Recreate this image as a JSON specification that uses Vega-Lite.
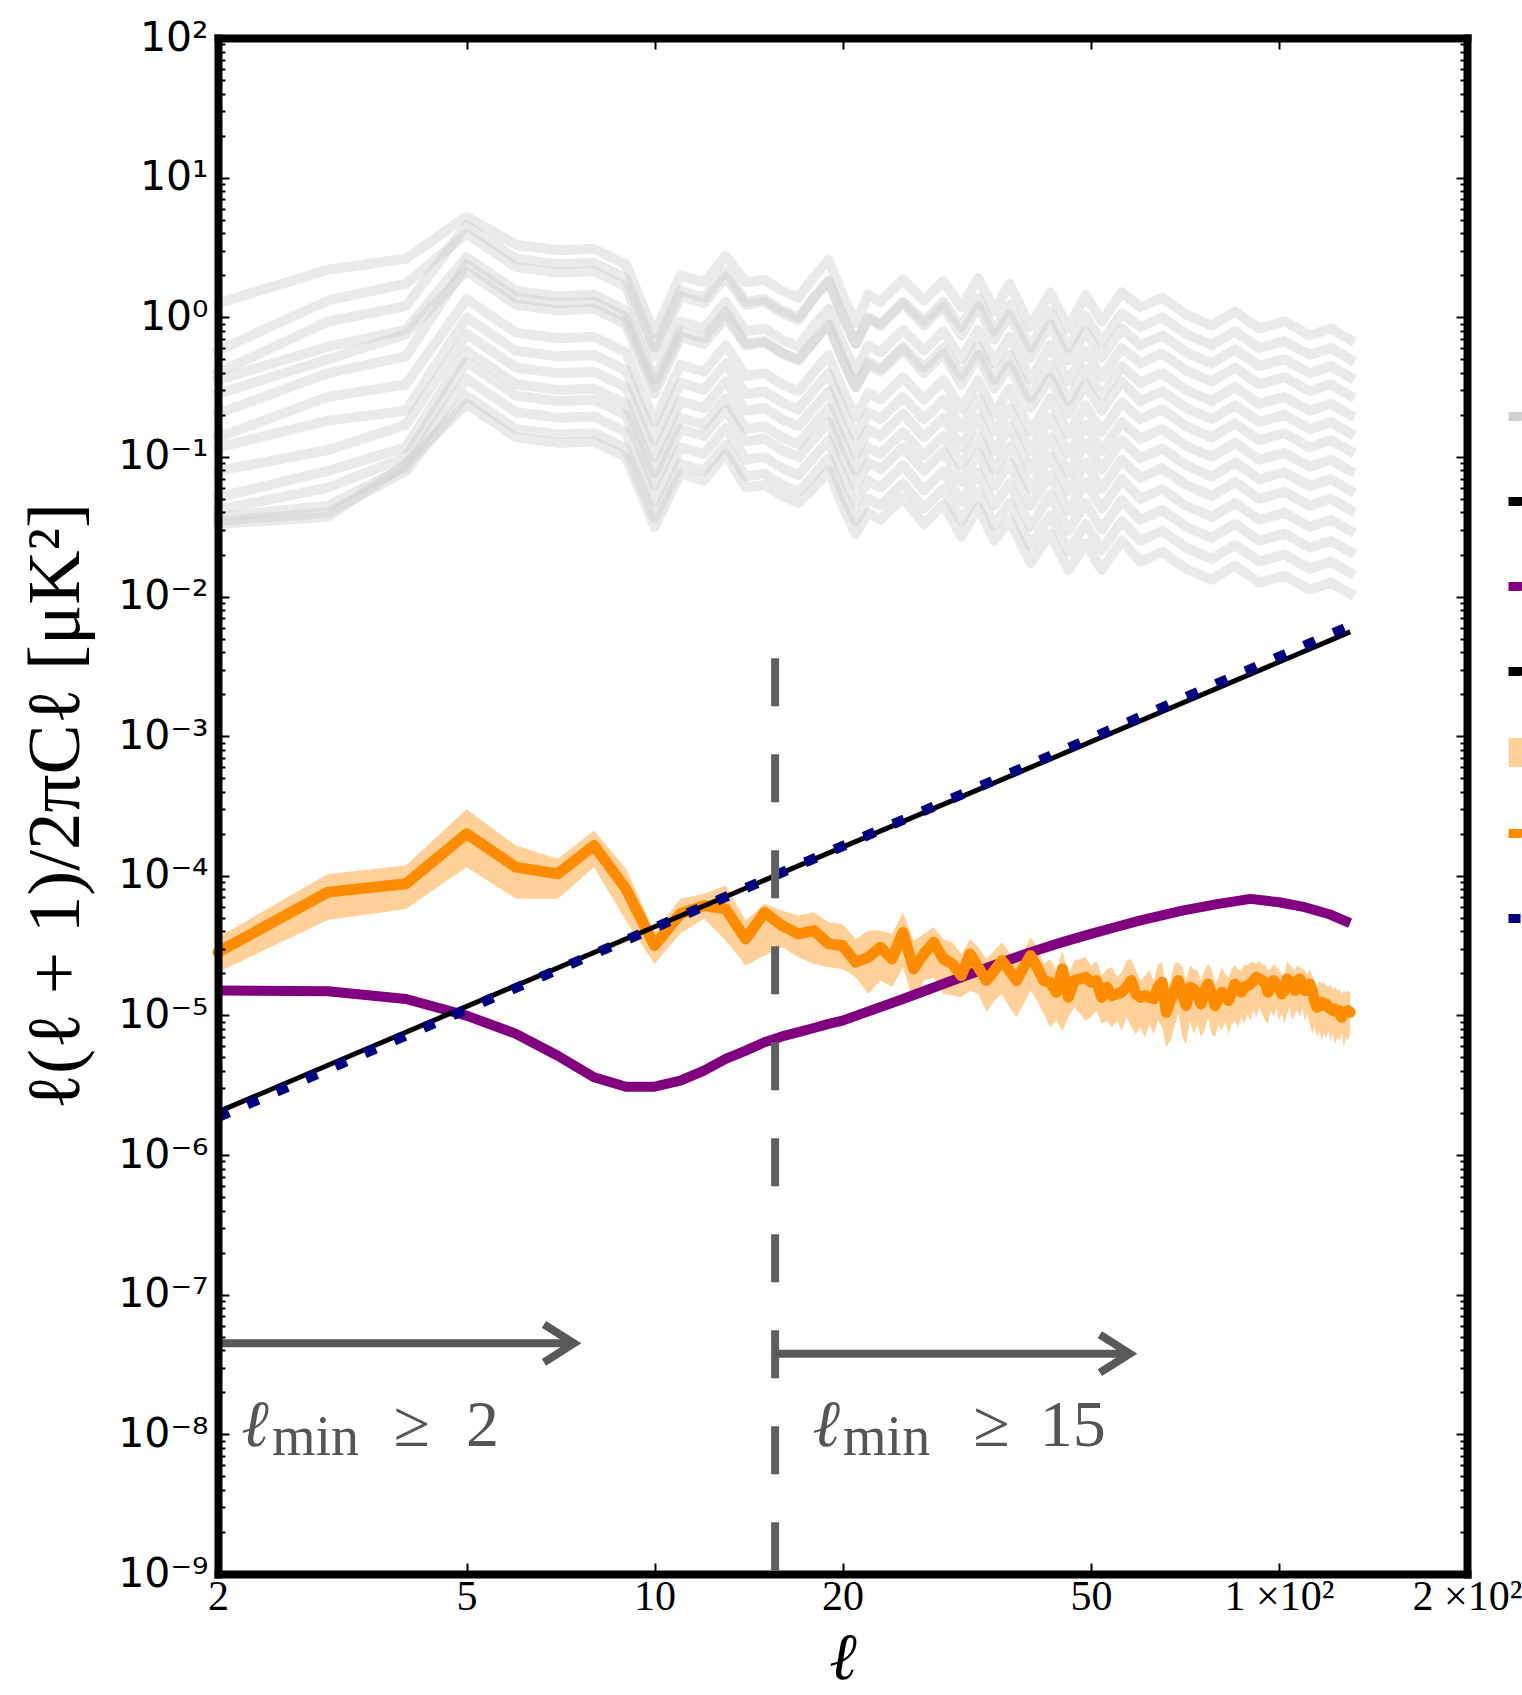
{
  "$schema": "https://vega.github.io/schema/vega-lite/v6.json",
  "autosize": {"type": "none"},
  "padding": {"left": 218, "top": 38, "right": 55, "bottom": 121},
  "width": 1249,
  "height": 1536,
  "background": "white",
  "config": {"view": {"stroke": null}, "font": "DejaVu Sans"},
  "datasets": {
    "gray": [
      {"l":2,"a":1.26,"b":0.575,"c":0.398,"d":0.355,"e":0.282,"f":0.204,"g":0.138,"h":0.117,"i":0.0794,"j":0.0513,"k":0.0417,"m":0.0372,"n":0.0347,"o":0.0331},
      {"l":3,"a":2.19,"b":1.32,"c":0.933,"d":0.617,"e":0.501,"f":0.398,"g":0.269,"h":0.182,"i":0.112,"j":0.0794,"k":0.0603,"m":0.0447,"n":0.0398,"o":0.0372},
      {"l":4,"a":2.63,"b":1.74,"c":1.20,"d":0.813,"e":0.759,"f":0.525,"g":0.331,"h":0.214,"i":0.170,"j":0.117,"k":0.100,"m":0.0851,"n":0.0794,"o":0.0891},
      {"l":5,"a":5.25,"b":3.98,"c":4.57,"d":2.69,"e":2.14,"f":2.40,"g":1.35,"h":1.00,"i":0.759,"j":0.575,"k":0.479,"m":0.363,"n":0.275,"o":0.240},
      {"l":6,"a":3.31,"b":2.29,"c":2.63,"d":1.55,"e":1.23,"f":1.38,"g":0.776,"h":0.575,"i":0.437,"j":0.331,"k":0.275,"m":0.209,"n":0.158,"o":0.138},
      {"l":7,"a":3.02,"b":2.09,"c":2.40,"d":1.41,"e":1.12,"f":1.26,"g":0.708,"h":0.525,"i":0.398,"j":0.302,"k":0.251,"m":0.191,"n":0.145,"o":0.126},
      {"l":8,"a":3.09,"b":2.14,"c":2.45,"d":1.45,"e":1.15,"f":1.29,"g":0.724,"h":0.537,"i":0.407,"j":0.309,"k":0.257,"m":0.195,"n":0.148,"o":0.129},
      {"l":9,"a":2.40,"b":1.66,"c":1.91,"d":1.12,"e":0.891,"f":1.00,"g":0.562,"h":0.417,"i":0.316,"j":0.240,"k":0.200,"m":0.151,"n":0.115,"o":0.100},
      {"l":10,"a":0.759,"b":0.525,"c":0.603,"d":0.355,"e":0.282,"f":0.316,"g":0.178,"h":0.132,"i":0.100,"j":0.0759,"k":0.0631,"m":0.0479,"n":0.0363,"o":0.0316},
      {"l":11,"a":2.00,"b":1.41,"c":1.55,"d":0.933,"e":0.724,"f":0.794,"g":0.457,"h":0.339,"i":0.251,"j":0.191,"k":0.158,"m":0.117,"n":0.0891,"o":0.0759},
      {"l":12,"a":1.78,"b":1.26,"c":1.38,"d":0.832,"e":0.646,"f":0.708,"g":0.407,"h":0.302,"i":0.224,"j":0.170,"k":0.141,"m":0.105,"n":0.0794,"o":0.0676},
      {"l":13,"a":2.75,"b":1.95,"c":2.14,"d":1.29,"e":1.00,"f":1.10,"g":0.631,"h":0.468,"i":0.347,"j":0.263,"k":0.219,"m":0.162,"n":0.123,"o":0.105},
      {"l":14,"a":1.78,"b":1.23,"c":1.29,"d":0.794,"e":0.631,"f":0.646,"g":0.380,"h":0.282,"i":0.214,"j":0.158,"k":0.129,"m":0.0955,"n":0.0724,"o":0.0603},
      {"l":15,"a":1.86,"b":1.29,"c":1.35,"d":0.832,"e":0.661,"f":0.676,"g":0.398,"h":0.295,"i":0.224,"j":0.166,"k":0.135,"m":0.100,"n":0.0759,"o":0.0631},
      {"l":16,"a":1.55,"b":1.07,"c":1.12,"d":0.692,"e":0.550,"f":0.562,"g":0.331,"h":0.245,"i":0.186,"j":0.138,"k":0.112,"m":0.0832,"n":0.0631,"o":0.0525},
      {"l":17,"a":1.38,"b":0.955,"c":1.00,"d":0.617,"e":0.490,"f":0.501,"g":0.295,"h":0.219,"i":0.166,"j":0.123,"k":0.100,"m":0.0741,"n":0.0562,"o":0.0468},
      {"l":18,"a":1.95,"b":1.38,"c":1.38,"d":0.871,"e":0.676,"f":0.676,"g":0.407,"h":0.302,"i":0.224,"j":0.170,"k":0.135,"m":0.100,"n":0.0741,"o":0.0603},
      {"l":19,"a":2.57,"b":1.82,"c":1.82,"d":1.15,"e":0.891,"f":0.891,"g":0.537,"h":0.398,"i":0.295,"j":0.224,"k":0.178,"m":0.132,"n":0.0977,"o":0.0794},
      {"l":20,"a":1.45,"b":1.02,"c":1.02,"d":0.646,"e":0.501,"f":0.501,"g":0.302,"h":0.224,"i":0.166,"j":0.126,"k":0.100,"m":0.0741,"n":0.0550,"o":0.0447},
      {"l":21,"a":0.912,"b":0.646,"c":0.646,"d":0.407,"e":0.316,"f":0.316,"g":0.191,"h":0.141,"i":0.105,"j":0.0794,"k":0.0631,"m":0.0468,"n":0.0347,"o":0.0282},
      {"l":22,"a":1.45,"b":1.00,"c":0.977,"d":0.631,"e":0.479,"f":0.457,"g":0.288,"h":0.209,"i":0.158,"j":0.117,"k":0.0912,"m":0.0676,"n":0.0501,"o":0.0398},
      {"l":23,"a":1.29,"b":0.891,"c":0.871,"d":0.562,"e":0.427,"f":0.407,"g":0.257,"h":0.186,"i":0.141,"j":0.105,"k":0.0813,"m":0.0603,"n":0.0447,"o":0.0355},
      {"l":25,"a":1.86,"b":1.29,"c":1.26,"d":0.813,"e":0.617,"f":0.589,"g":0.372,"h":0.269,"i":0.204,"j":0.151,"k":0.117,"m":0.0871,"n":0.0646,"o":0.0513},
      {"l":27,"a":1.32,"b":0.933,"c":0.871,"d":0.575,"e":0.437,"f":0.398,"g":0.257,"h":0.186,"i":0.138,"j":0.102,"k":0.0794,"m":0.0575,"n":0.0427,"o":0.0331},
      {"l":29,"a":1.82,"b":1.29,"c":1.20,"d":0.794,"e":0.603,"f":0.550,"g":0.355,"h":0.257,"i":0.191,"j":0.141,"k":0.110,"m":0.0794,"n":0.0589,"o":0.0457},
      {"l":31,"a":1.18,"b":0.851,"c":0.741,"d":0.501,"e":0.380,"f":0.331,"g":0.219,"h":0.162,"i":0.117,"j":0.0871,"k":0.0661,"m":0.0479,"n":0.0347,"o":0.0269},
      {"l":33,"a":1.91,"b":1.38,"c":1.20,"d":0.813,"e":0.617,"f":0.537,"g":0.355,"h":0.263,"i":0.191,"j":0.141,"k":0.107,"m":0.0776,"n":0.0562,"o":0.0437},
      {"l":35,"a":1.10,"b":0.794,"c":0.692,"d":0.468,"e":0.355,"f":0.309,"g":0.204,"h":0.151,"i":0.110,"j":0.0813,"k":0.0617,"m":0.0447,"n":0.0324,"o":0.0251},
      {"l":37,"a":1.74,"b":1.23,"c":1.05,"d":0.724,"e":0.537,"f":0.457,"g":0.309,"h":0.224,"i":0.166,"j":0.120,"k":0.0912,"m":0.0646,"n":0.0468,"o":0.0355},
      {"l":40,"a":0.851,"b":0.603,"c":0.513,"d":0.355,"e":0.263,"f":0.224,"g":0.151,"h":0.110,"i":0.0813,"j":0.0589,"k":0.0447,"m":0.0316,"n":0.0229,"o":0.0174},
      {"l":43,"a":1.51,"b":1.10,"c":0.891,"d":0.631,"e":0.457,"f":0.372,"g":0.263,"h":0.191,"i":0.138,"j":0.102,"k":0.0741,"m":0.0537,"n":0.0380,"o":0.0282},
      {"l":46,"a":0.832,"b":0.603,"c":0.490,"d":0.347,"e":0.251,"f":0.204,"g":0.145,"h":0.105,"i":0.0759,"j":0.0562,"k":0.0407,"m":0.0295,"n":0.0209,"o":0.0155},
      {"l":49,"a":1.45,"b":1.02,"c":0.794,"d":0.575,"e":0.427,"f":0.331,"g":0.234,"h":0.170,"i":0.126,"j":0.0912,"k":0.0661,"m":0.0468,"n":0.0331,"o":0.0240},
      {"l":52,"a":0.933,"b":0.661,"c":0.513,"d":0.372,"e":0.275,"f":0.214,"g":0.151,"h":0.110,"i":0.0813,"j":0.0589,"k":0.0427,"m":0.0302,"n":0.0214,"o":0.0155},
      {"l":56,"a":1.51,"b":1.07,"c":0.832,"d":0.603,"e":0.447,"f":0.347,"g":0.245,"h":0.178,"i":0.132,"j":0.0955,"k":0.0692,"m":0.0490,"n":0.0347,"o":0.0251},
      {"l":60,"a":1.18,"b":0.851,"c":0.631,"d":0.468,"e":0.339,"f":0.251,"g":0.186,"h":0.135,"i":0.0977,"j":0.0708,"k":0.0501,"m":0.0355,"n":0.0251,"o":0.0178},
      {"l":65,"a":1.38,"b":1.00,"c":0.741,"d":0.550,"e":0.398,"f":0.295,"g":0.219,"h":0.158,"i":0.115,"j":0.0832,"k":0.0589,"m":0.0417,"n":0.0295,"o":0.0209},
      {"l":71,"a":1.05,"b":0.759,"c":0.562,"d":0.417,"e":0.302,"f":0.224,"g":0.166,"h":0.120,"i":0.0871,"j":0.0631,"k":0.0447,"m":0.0316,"n":0.0224,"o":0.0158},
      {"l":78,"a":0.871,"b":0.631,"c":0.468,"d":0.347,"e":0.251,"f":0.186,"g":0.138,"h":0.100,"i":0.0724,"j":0.0525,"k":0.0372,"m":0.0263,"n":0.0186,"o":0.0132},
      {"l":85,"a":1.10,"b":0.794,"c":0.589,"d":0.437,"e":0.316,"f":0.234,"g":0.174,"h":0.126,"i":0.0912,"j":0.0661,"k":0.0468,"m":0.0331,"n":0.0234,"o":0.0166},
      {"l":93,"a":0.832,"b":0.603,"c":0.447,"d":0.331,"e":0.240,"f":0.178,"g":0.132,"h":0.0955,"i":0.0692,"j":0.0501,"k":0.0355,"m":0.0251,"n":0.0178,"o":0.0126},
      {"l":102,"a":0.933,"b":0.676,"c":0.501,"d":0.372,"e":0.269,"f":0.200,"g":0.148,"h":0.107,"i":0.0776,"j":0.0562,"k":0.0398,"m":0.0282,"n":0.0200,"o":0.0141},
      {"l":112,"a":0.741,"b":0.537,"c":0.398,"d":0.295,"e":0.214,"f":0.158,"g":0.117,"h":0.0851,"i":0.0617,"j":0.0447,"k":0.0316,"m":0.0224,"n":0.0158,"o":0.0112},
      {"l":121,"a":0.832,"b":0.603,"c":0.447,"d":0.331,"e":0.240,"f":0.178,"g":0.132,"h":0.0955,"i":0.0692,"j":0.0501,"k":0.0355,"m":0.0251,"n":0.0178,"o":0.0126},
      {"l":130,"a":0.692,"b":0.501,"c":0.372,"d":0.275,"e":0.200,"f":0.148,"g":0.110,"h":0.0794,"i":0.0575,"j":0.0417,"k":0.0295,"m":0.0209,"n":0.0148,"o":0.0105}
    ],
    "orange": [
      {"l":2,"v":2.84e-5,"lo":2.04e-5,"hi":3.63e-5},
      {"l":3,"v":7.64e-5,"lo":4.83e-5,"hi":1.03e-4},
      {"l":4,"v":8.77e-5,"lo":5.79e-5,"hi":1.186e-4},
      {"l":5,"v":2.0e-4,"lo":1.153e-4,"hi":3.0e-4},
      {"l":6,"v":1.153e-4,"lo":6.84e-5,"hi":1.648e-4},
      {"l":7,"v":1.033e-4,"lo":6.84e-5,"hi":1.324e-4},
      {"l":8,"v":1.648e-4,"lo":1.153e-4,"hi":2.11e-4},
      {"l":9,"v":8.07e-5,"lo":4.79e-5,"hi":1.122e-4},
      {"l":10,"v":3.17e-5,"lo":2.34e-5,"hi":3.94e-5},
      {"l":11,"v":5.35e-5,"lo":3.84e-5,"hi":6.84e-5},
      {"l":12,"v":6.12e-5,"lo":4.92e-5,"hi":7.43e-5},
      {"l":13,"v":5.79e-5,"lo":3.44e-5,"hi":8.51e-5},
      {"l":14,"v":3.53e-5,"lo":2.28e-5,"hi":4.79e-5},
      {"l":15,"v":5.48e-5,"lo":2.69e-5,"hi":6.30e-5},
      {"l":16,"v":4.404e-5,"lo":3.080e-5,"hi":5.640e-5},
      {"l":17,"v":3.838e-5,"lo":2.612e-5,"hi":5.194e-5},
      {"l":18,"v":4.055e-5,"lo":2.339e-5,"hi":5.487e-5},
      {"l":19,"v":3.254e-5,"lo":2.214e-5,"hi":4.653e-5},
      {"l":20,"v":3.166e-5,"lo":2.154e-5,"hi":4.525e-5},
      {"l":21,"v":2.404e-5,"lo":1.877e-5,"hi":3.534e-5},
      {"l":22,"v":2.612e-5,"lo":1.426e-5,"hi":4.055e-5},
      {"l":23,"v":3.080e-5,"lo":1.777e-5,"hi":4.055e-5},
      {"l":24,"v":2.541e-5,"lo":1.592e-5,"hi":3.838e-5},
      {"l":25,"v":3.945e-5,"lo":2.214e-5,"hi":5.487e-5},
      {"l":26,"v":2.154e-5,"lo":1.243e-5,"hi":3.439e-5},
      {"l":27,"v":2.759e-5,"lo":1.777e-5,"hi":3.838e-5},
      {"l":28,"v":3.345e-5,"lo":1.877e-5,"hi":4.284e-5},
      {"l":29,"v":2.541e-5,"lo":1.426e-5,"hi":3.534e-5},
      {"l":30,"v":2.339e-5,"lo":1.387e-5,"hi":3.345e-5},
      {"l":31,"v":1.929e-5,"lo":1.350e-5,"hi":2.759e-5},
      {"l":32,"v":2.759e-5,"lo":1.507e-5,"hi":3.534e-5},
      {"l":33,"v":2.214e-5,"lo":1.426e-5,"hi":3.080e-5},
      {"l":34,"v":1.777e-5,"lo":1.054e-5,"hi":2.541e-5},
      {"l":35,"v":2.096e-5,"lo":1.277e-5,"hi":2.915e-5},
      {"l":36,"v":2.472e-5,"lo":1.426e-5,"hi":3.345e-5},
      {"l":37,"v":2.096e-5,"lo":1.144e-5,"hi":2.836e-5},
      {"l":38,"v":1.777e-5,"lo":0.970e-5,"hi":2.541e-5},
      {"l":39,"v":2.214e-5,"lo":1.209e-5,"hi":2.836e-5},
      {"l":40,"v":2.685e-5,"lo":1.507e-5,"hi":3.633e-5},
      {"l":41,"v":2.214e-5,"lo":1.277e-5,"hi":3.080e-5},
      {"l":42,"v":1.777e-5,"lo":1.025e-5,"hi":2.339e-5},
      {"l":43,"v":1.729e-5,"lo":0.822e-5,"hi":2.541e-5},
      {"l":44,"v":1.466e-5,"lo":0.918e-5,"hi":2.096e-5},
      {"l":45,"v":2.154e-5,"lo":0.778e-5,"hi":2.915e-5},
      {"l":46,"v":1.350e-5,"lo":0.970e-5,"hi":1.984e-5},
      {"l":47,"v":1.777e-5,"lo":1.144e-5,"hi":2.472e-5},
      {"l":48,"v":1.826e-5,"lo":1.025e-5,"hi":2.541e-5},
      {"l":49,"v":1.877e-5,"lo":0.918e-5,"hi":2.612e-5},
      {"l":50,"v":1.729e-5,"lo":0.970e-5,"hi":2.276e-5},
      {"l":51,"v":1.777e-5,"lo":1.083e-5,"hi":2.472e-5},
      {"l":52,"v":1.350e-5,"lo":0.869e-5,"hi":1.929e-5},
      {"l":53,"v":1.592e-5,"lo":0.918e-5,"hi":2.154e-5},
      {"l":54,"v":1.387e-5,"lo":0.822e-5,"hi":2.214e-5},
      {"l":55,"v":1.426e-5,"lo":0.918e-5,"hi":1.877e-5},
      {"l":56,"v":1.466e-5,"lo":0.778e-5,"hi":2.039e-5},
      {"l":57,"v":1.592e-5,"lo":0.970e-5,"hi":2.472e-5},
      {"l":58,"v":1.777e-5,"lo":0.822e-5,"hi":2.541e-5},
      {"l":59,"v":1.426e-5,"lo":0.737e-5,"hi":2.096e-5},
      {"l":60,"v":1.350e-5,"lo":0.822e-5,"hi":1.777e-5},
      {"l":61,"v":1.387e-5,"lo":0.697e-5,"hi":1.929e-5},
      {"l":62,"v":1.350e-5,"lo":0.869e-5,"hi":2.096e-5},
      {"l":63,"v":1.313e-5,"lo":0.737e-5,"hi":1.777e-5},
      {"l":64,"v":1.592e-5,"lo":0.918e-5,"hi":2.339e-5},
      {"l":65,"v":1.729e-5,"lo":0.822e-5,"hi":2.404e-5},
      {"l":66,"v":1.054e-5,"lo":0.591e-5,"hi":1.507e-5},
      {"l":67,"v":1.277e-5,"lo":0.660e-5,"hi":1.777e-5},
      {"l":68,"v":1.507e-5,"lo":0.822e-5,"hi":2.339e-5},
      {"l":69,"v":1.777e-5,"lo":1.025e-5,"hi":2.404e-5},
      {"l":70,"v":1.426e-5,"lo":0.697e-5,"hi":2.214e-5},
      {"l":71,"v":1.176e-5,"lo":0.625e-5,"hi":1.777e-5},
      {"l":72,"v":1.592e-5,"lo":0.918e-5,"hi":2.276e-5},
      {"l":73,"v":1.549e-5,"lo":0.737e-5,"hi":2.154e-5},
      {"l":74,"v":1.387e-5,"lo":0.869e-5,"hi":2.096e-5},
      {"l":75,"v":1.209e-5,"lo":0.697e-5,"hi":1.777e-5},
      {"l":76,"v":1.507e-5,"lo":0.778e-5,"hi":2.096e-5},
      {"l":77,"v":1.682e-5,"lo":0.970e-5,"hi":2.339e-5},
      {"l":78,"v":1.426e-5,"lo":0.737e-5,"hi":2.154e-5},
      {"l":79,"v":1.176e-5,"lo":0.697e-5,"hi":1.682e-5},
      {"l":80,"v":1.313e-5,"lo":0.869e-5,"hi":1.877e-5},
      {"l":81,"v":1.466e-5,"lo":0.778e-5,"hi":2.214e-5},
      {"l":82,"v":1.426e-5,"lo":0.918e-5,"hi":1.984e-5},
      {"l":83,"v":1.277e-5,"lo":0.737e-5,"hi":1.877e-5},
      {"l":84,"v":1.466e-5,"lo":0.869e-5,"hi":2.154e-5},
      {"l":85,"v":1.682e-5,"lo":0.918e-5,"hi":2.276e-5},
      {"l":86,"v":1.549e-5,"lo":0.822e-5,"hi":2.154e-5},
      {"l":87,"v":1.466e-5,"lo":0.970e-5,"hi":2.096e-5},
      {"l":88,"v":1.592e-5,"lo":0.869e-5,"hi":2.339e-5},
      {"l":89,"v":1.636e-5,"lo":1.025e-5,"hi":2.276e-5},
      {"l":90,"v":1.682e-5,"lo":0.918e-5,"hi":2.404e-5},
      {"l":91,"v":1.777e-5,"lo":1.083e-5,"hi":2.404e-5},
      {"l":92,"v":1.877e-5,"lo":0.970e-5,"hi":2.339e-5},
      {"l":93,"v":1.826e-5,"lo":1.144e-5,"hi":2.472e-5},
      {"l":94,"v":1.777e-5,"lo":1.025e-5,"hi":2.276e-5},
      {"l":95,"v":1.729e-5,"lo":0.918e-5,"hi":2.339e-5},
      {"l":96,"v":1.466e-5,"lo":0.869e-5,"hi":2.096e-5},
      {"l":97,"v":1.592e-5,"lo":1.083e-5,"hi":2.154e-5},
      {"l":98,"v":1.777e-5,"lo":0.970e-5,"hi":2.339e-5},
      {"l":99,"v":1.682e-5,"lo":1.144e-5,"hi":2.214e-5},
      {"l":100,"v":1.592e-5,"lo":0.918e-5,"hi":2.154e-5},
      {"l":101,"v":1.426e-5,"lo":1.025e-5,"hi":1.984e-5},
      {"l":102,"v":1.507e-5,"lo":0.869e-5,"hi":1.929e-5},
      {"l":103,"v":1.826e-5,"lo":1.025e-5,"hi":2.472e-5},
      {"l":104,"v":1.729e-5,"lo":1.144e-5,"hi":2.276e-5},
      {"l":105,"v":1.682e-5,"lo":0.918e-5,"hi":2.214e-5},
      {"l":106,"v":1.507e-5,"lo":1.025e-5,"hi":2.096e-5},
      {"l":107,"v":1.777e-5,"lo":1.083e-5,"hi":2.276e-5},
      {"l":108,"v":1.826e-5,"lo":0.970e-5,"hi":2.214e-5},
      {"l":109,"v":1.636e-5,"lo":1.144e-5,"hi":2.154e-5},
      {"l":110,"v":1.507e-5,"lo":0.918e-5,"hi":2.096e-5},
      {"l":111,"v":1.549e-5,"lo":1.025e-5,"hi":1.984e-5},
      {"l":112,"v":1.682e-5,"lo":0.869e-5,"hi":2.154e-5},
      {"l":113,"v":1.507e-5,"lo":0.737e-5,"hi":1.929e-5},
      {"l":114,"v":1.277e-5,"lo":0.822e-5,"hi":1.777e-5},
      {"l":115,"v":1.144e-5,"lo":0.697e-5,"hi":1.592e-5},
      {"l":116,"v":1.209e-5,"lo":0.778e-5,"hi":1.777e-5},
      {"l":117,"v":1.243e-5,"lo":0.660e-5,"hi":1.682e-5},
      {"l":118,"v":1.176e-5,"lo":0.737e-5,"hi":1.729e-5},
      {"l":119,"v":1.209e-5,"lo":0.697e-5,"hi":1.636e-5},
      {"l":120,"v":1.144e-5,"lo":0.778e-5,"hi":1.592e-5},
      {"l":121,"v":1.113e-5,"lo":0.660e-5,"hi":1.682e-5},
      {"l":122,"v":1.083e-5,"lo":0.737e-5,"hi":1.507e-5},
      {"l":123,"v":1.113e-5,"lo":0.625e-5,"hi":1.592e-5},
      {"l":124,"v":1.054e-5,"lo":0.697e-5,"hi":1.507e-5},
      {"l":125,"v":1.083e-5,"lo":0.660e-5,"hi":1.549e-5},
      {"l":126,"v":0.970e-5,"lo":0.737e-5,"hi":1.426e-5},
      {"l":127,"v":1.025e-5,"lo":0.591e-5,"hi":1.507e-5},
      {"l":128,"v":1.054e-5,"lo":0.697e-5,"hi":1.466e-5},
      {"l":129,"v":1.083e-5,"lo":0.660e-5,"hi":1.507e-5},
      {"l":130,"v":1.054e-5,"lo":0.737e-5,"hi":1.466e-5}
    ],
    "purple": [
      {"l":2,"v":1.507e-5},{"l":3,"v":1.49e-5},{"l":4,"v":1.312e-5},{"l":5,"v":9.98e-6},
      {"l":6,"v":7.38e-6},{"l":7,"v":5.15e-6},{"l":8,"v":3.61e-6},{"l":9,"v":3.09e-6},
      {"l":10,"v":3.09e-6},{"l":11,"v":3.41e-6},{"l":12,"v":4.03e-6},{"l":13,"v":4.88e-6},
      {"l":14,"v":5.60e-6},{"l":15,"v":6.43e-6},{"l":16,"v":7.08e-6},{"l":17,"v":7.59e-6},
      {"l":18,"v":8.13e-6},{"l":19,"v":8.71e-6},{"l":20,"v":9.18e-6},{"l":22,"v":1.07e-5},
      {"l":25,"v":1.31e-5},{"l":28,"v":1.585e-5},{"l":30,"v":1.78e-5},{"l":35,"v":2.29e-5},
      {"l":40,"v":2.84e-5},{"l":45,"v":3.35e-5},{"l":50,"v":3.84e-5},{"l":55,"v":4.32e-5},
      {"l":60,"v":4.79e-5},{"l":70,"v":5.64e-5},{"l":80,"v":6.30e-5},{"l":90,"v":6.84e-5},
      {"l":100,"v":6.47e-5},{"l":110,"v":5.96e-5},{"l":120,"v":5.33e-5},{"l":130,"v":4.58e-5}
    ],
    "black": [{"l":2,"v":2.04e-6},{"l":130,"v":5.58e-3}],
    "navy": [{"l":2,"v":1.87e-6},{"l":130,"v":6.17e-3}],
    "vline": [{"l":15.6,"top":3.62e-3,"bot":1e-9}],
    "shafts": [{"l0":2,"l1":7.43,"v":4.49e-8},{"l0":15.6,"l1":57.7,"v":3.78e-8}],
    "heads": [{"l":7.43,"v":4.49e-8},{"l":57.7,"v":3.78e-8}],
    "ell": [{"l":2.18,"v":8.2e-9,"t":"ℓ"},{"l":17.9,"v":8.2e-9,"t":"ℓ"}],
    "sub": [{"l":2.44,"v":7.08e-9,"t":"min"},{"l":20.04,"v":7.08e-9,"t":"min"}],
    "rel": [{"l":3.82,"v":8.2e-9,"t":"≥"},{"l":4.99,"v":8.2e-9,"t":"2"},{"l":32.4,"v":8.2e-9,"t":"≥"},{"l":41.4,"v":8.2e-9,"t":"15"}]
  },
  "resolve": {"axis": {"x": "independent", "y": "independent"}},
  "layer": [
    {
      "data": {"name": "gray"},
      "transform": [{"fold": ["a","b","c","d","e","f","g","h","i","j","k","m","n","o"], "as": ["sim", "v"]}],
      "mark": {"type": "line", "strokeWidth": 10, "opacity": 0.45, "strokeJoin": "round", "strokeCap": "square"},
      "encoding": {
        "x": {"field": "l", "type": "quantitative", "scale": {"type": "log", "domain": [2, 200], "nice": false},
          "axis": {"orient": "bottom", "values": [2,5,10,20,50,100,200],
            "labelExpr": "datum.value == 100 ? '1 ×10²' : datum.value == 200 ? '2 ×10²' : format(datum.value, 'd')",
            "labelFont": "Liberation Serif", "labelFontSize": 42, "labelColor": "black", "labelPadding": 13,
            "labelFlush": false, "labelOverlap": false,
            "tickSize": -11, "tickWidth": 2, "tickColor": "black",
            "domainWidth": 8, "domainColor": "black", "domainCap": "square", "grid": false, "zindex": 1,
            "title": "ℓ", "titleFont": "Liberation Serif", "titleFontSize": 66, "titleFontStyle": "italic",
            "titleFontWeight": "normal", "titleColor": "black", "titleBaseline": "alphabetic", "titleY": 104}},
        "y": {"field": "v", "type": "quantitative", "scale": {"type": "log", "domain": [1e-9, 100], "nice": false},
          "axis": {"orient": "left",
            "values": [1e-9,2e-9,3e-9,4e-9,5e-9,6e-9,7e-9,8e-9,9e-9,1e-8,2e-8,3e-8,4e-8,5e-8,6e-8,7e-8,8e-8,9e-8,1e-7,2e-7,3e-7,4e-7,5e-7,6e-7,7e-7,8e-7,9e-7,1e-6,2e-6,3e-6,4e-6,5e-6,6e-6,7e-6,8e-6,9e-6,1e-5,2e-5,3e-5,4e-5,5e-5,6e-5,7e-5,8e-5,9e-5,1e-4,2e-4,3e-4,4e-4,5e-4,6e-4,7e-4,8e-4,9e-4,0.001,0.002,0.003,0.004,0.005,0.006,0.007,0.008,0.009,0.01,0.02,0.03,0.04,0.05,0.06,0.07,0.08,0.09,0.1,0.2,0.3,0.4,0.5,0.6,0.7,0.8,0.9,1,2,3,4,5,6,7,8,9,10,20,30,40,50,60,70,80,90,100],
            "labelExpr": "abs(log(datum.value)/LN10 - round(log(datum.value)/LN10)) < 0.01 ? '10' + ['⁻⁹','⁻⁸','⁻⁷','⁻⁶','⁻⁵','⁻⁴','⁻³','⁻²','⁻¹','⁰','¹','²'][round(log(datum.value)/LN10) + 9] : ''",
            "labelFont": "DejaVu Sans", "labelFontSize": 41, "labelColor": "black", "labelPadding": 21,
            "labelOverlap": false, "labelFlush": false,
            "tickSize": {"condition": {"test": "abs(log(datum.value)/LN10 - round(log(datum.value)/LN10)) < 0.01", "value": -11}, "value": -7},
            "tickWidth": 2, "tickColor": "black",
            "domainWidth": 8, "domainColor": "black", "domainCap": "square", "grid": false, "zindex": 1,
            "title": "ℓ(ℓ + 1)/2πCℓ  [μK²]", "titleFont": "Liberation Serif", "titleFontSize": 75,
            "titleFontWeight": "normal", "titleColor": "black", "titleX": -140, "titleBaseline": "alphabetic"}},
        "detail": {"field": "sim"},
        "color": {"datum": "sims",
          "scale": {"domain": ["sims","bk1","pur","bk2","band","ora","navy"], "range": ["#d0d0d0","#000000","#800080","#000000","#ffd199","#ff8c00","#000080"]},
          "legend": {"orient": "none", "legendX": 1306, "legendY": 374, "title": null, "padding": 0,
            "symbolType": "stroke", "symbolSize": 1600, "symbolStrokeWidth": 8, "symbolOpacity": 1,
            "labelExpr": "''", "labelFontSize": 8, "labelOffset": 0, "rowPadding": 48,
            "encode": {"symbols": {"update": {
              "shape": {"signal": "datum.value === 'band' ? 'M-1,-0.72L1,-0.72L1,0.72L-1,0.72Z' : 'stroke'"},
              "stroke": {"scale": "color", "field": "value"},
              "fill": {"signal": "datum.value === 'band' ? '#ffd199' : 'transparent'"},
              "opacity": {"value": 1},
              "strokeWidth": {"signal": "datum.value === 'band' ? 0 : 9"},
              "strokeDash": {"signal": "datum.value === 'navy' ? [12, 20] : [1, 0]"}}}}}}
      }
    },
    {
      "data": {"name": "orange"},
      "mark": {"type": "area", "opacity": 1},
      "encoding": {
        "x": {"field": "l", "type": "quantitative", "scale": {"type": "log", "domain": [2, 200], "nice": false}, "axis": null},
        "y": {"field": "lo", "type": "quantitative", "scale": {"type": "log", "domain": [1e-9, 100], "nice": false}, "axis": null},
        "y2": {"field": "hi"},
        "color": {"datum": "band"}
      }
    },
    {
      "data": {"name": "purple"},
      "mark": {"type": "line", "strokeWidth": 10, "strokeJoin": "round"},
      "encoding": {
        "x": {"field": "l", "type": "quantitative", "scale": {"type": "log", "domain": [2, 200], "nice": false}, "axis": null},
        "y": {"field": "v", "type": "quantitative", "scale": {"type": "log", "domain": [1e-9, 100], "nice": false}, "axis": null},
        "color": {"datum": "pur"}
      }
    },
    {
      "data": {"name": "orange"},
      "mark": {"type": "line", "strokeWidth": 11, "strokeJoin": "round", "strokeCap": "round"},
      "encoding": {
        "x": {"field": "l", "type": "quantitative", "scale": {"type": "log", "domain": [2, 200], "nice": false},
          "axis": {"orient": "top", "values": [2,5,10,20,50,100,200], "labels": false, "title": null,
            "tickSize": -11, "tickWidth": 2, "tickColor": "black",
            "domainWidth": 8, "domainColor": "black", "domainCap": "square", "grid": false, "zindex": 1}},
        "y": {"field": "v", "type": "quantitative", "scale": {"type": "log", "domain": [1e-9, 100], "nice": false},
          "axis": {"orient": "right", "labels": false, "title": null,
            "values": [1e-9,2e-9,3e-9,4e-9,5e-9,6e-9,7e-9,8e-9,9e-9,1e-8,2e-8,3e-8,4e-8,5e-8,6e-8,7e-8,8e-8,9e-8,1e-7,2e-7,3e-7,4e-7,5e-7,6e-7,7e-7,8e-7,9e-7,1e-6,2e-6,3e-6,4e-6,5e-6,6e-6,7e-6,8e-6,9e-6,1e-5,2e-5,3e-5,4e-5,5e-5,6e-5,7e-5,8e-5,9e-5,1e-4,2e-4,3e-4,4e-4,5e-4,6e-4,7e-4,8e-4,9e-4,0.001,0.002,0.003,0.004,0.005,0.006,0.007,0.008,0.009,0.01,0.02,0.03,0.04,0.05,0.06,0.07,0.08,0.09,0.1,0.2,0.3,0.4,0.5,0.6,0.7,0.8,0.9,1,2,3,4,5,6,7,8,9,10,20,30,40,50,60,70,80,90,100],
            "tickSize": {"condition": {"test": "abs(log(datum.value)/LN10 - round(log(datum.value)/LN10)) < 0.01", "value": -11}, "value": -7},
            "tickWidth": 2, "tickColor": "black",
            "domainWidth": 8, "domainColor": "black", "domainCap": "square", "grid": false, "zindex": 1}},
        "color": {"datum": "ora"}
      }
    },
    {
      "data": {"name": "black"},
      "mark": {"type": "line", "strokeWidth": 5},
      "encoding": {
        "x": {"field": "l", "type": "quantitative", "scale": {"type": "log", "domain": [2, 200], "nice": false}, "axis": null},
        "y": {"field": "v", "type": "quantitative", "scale": {"type": "log", "domain": [1e-9, 100], "nice": false}, "axis": null},
        "color": {"datum": "bk2"}
      }
    },
    {
      "data": {"name": "navy"},
      "mark": {"type": "line", "strokeWidth": 10, "strokeDash": [12, 20], "strokeCap": "butt"},
      "encoding": {
        "x": {"field": "l", "type": "quantitative", "scale": {"type": "log", "domain": [2, 200], "nice": false}, "axis": null},
        "y": {"field": "v", "type": "quantitative", "scale": {"type": "log", "domain": [1e-9, 100], "nice": false}, "axis": null},
        "color": {"datum": "navy"}
      }
    },
    {
      "data": {"name": "vline"},
      "mark": {"type": "rule", "color": "#606060", "strokeWidth": 8, "strokeDash": [48, 48]},
      "encoding": {
        "x": {"field": "l", "type": "quantitative", "scale": {"type": "log", "domain": [2, 200], "nice": false}, "axis": null},
        "y": {"field": "top", "type": "quantitative", "scale": {"type": "log", "domain": [1e-9, 100], "nice": false}, "axis": null},
        "y2": {"field": "bot"}
      }
    },
    {
      "data": {"name": "shafts"},
      "mark": {"type": "rule", "color": "#595959", "strokeWidth": 8},
      "encoding": {
        "x": {"field": "l0", "type": "quantitative", "scale": {"type": "log", "domain": [2, 200], "nice": false}, "axis": null},
        "x2": {"field": "l1"},
        "y": {"field": "v", "type": "quantitative", "scale": {"type": "log", "domain": [1e-9, 100], "nice": false}, "axis": null}
      }
    },
    {
      "data": {"name": "heads"},
      "mark": {"type": "point", "shape": "M-1,-0.633L0,0L-1,0.633", "size": 3600, "filled": false, "stroke": "#595959", "strokeWidth": 8, "opacity": 1, "strokeJoin": "miter"},
      "encoding": {
        "x": {"field": "l", "type": "quantitative", "scale": {"type": "log", "domain": [2, 200], "nice": false}, "axis": null},
        "y": {"field": "v", "type": "quantitative", "scale": {"type": "log", "domain": [1e-9, 100], "nice": false}, "axis": null}
      }
    },
    {
      "data": {"name": "ell"},
      "mark": {"type": "text", "align": "left", "baseline": "alphabetic", "font": "Liberation Serif", "fontSize": 66, "fontStyle": "italic", "color": "#555555"},
      "encoding": {
        "x": {"field": "l", "type": "quantitative", "scale": {"type": "log", "domain": [2, 200], "nice": false}, "axis": null},
        "y": {"field": "v", "type": "quantitative", "scale": {"type": "log", "domain": [1e-9, 100], "nice": false}, "axis": null},
        "text": {"field": "t"}
      }
    },
    {
      "data": {"name": "sub"},
      "mark": {"type": "text", "align": "left", "baseline": "alphabetic", "font": "Liberation Serif", "fontSize": 56, "color": "#555555"},
      "encoding": {
        "x": {"field": "l", "type": "quantitative", "scale": {"type": "log", "domain": [2, 200], "nice": false}, "axis": null},
        "y": {"field": "v", "type": "quantitative", "scale": {"type": "log", "domain": [1e-9, 100], "nice": false}, "axis": null},
        "text": {"field": "t"}
      }
    },
    {
      "data": {"name": "rel"},
      "mark": {"type": "text", "align": "left", "baseline": "alphabetic", "font": "Liberation Serif", "fontSize": 66, "color": "#555555"},
      "encoding": {
        "x": {"field": "l", "type": "quantitative", "scale": {"type": "log", "domain": [2, 200], "nice": false}, "axis": null},
        "y": {"field": "v", "type": "quantitative", "scale": {"type": "log", "domain": [1e-9, 100], "nice": false}, "axis": null},
        "text": {"field": "t"}
      }
    }
  ]
}
